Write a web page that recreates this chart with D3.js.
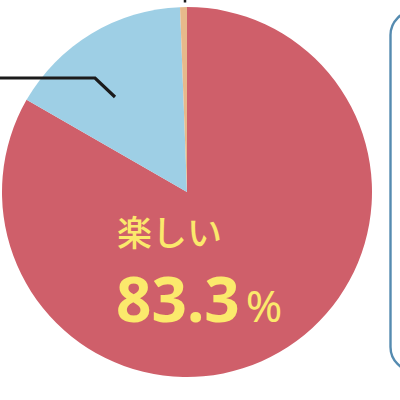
<!DOCTYPE html>
<html>
<head>
<meta charset="utf-8">
<script src="https://cdn.jsdelivr.net/npm/d3@7"></script>
<style>
  html, body { margin: 0; padding: 0; background: #fff; }
  svg { display: block; }
</style>
</head>
<body>
<div id="chart"></div>
<script>
'use strict';

// slices in clockwise order from 12 o'clock
const labels = ['楽しい', 'その他', '無回答'];
const values = [83.3, 16.1, 0.6];
const colors = ['#cf5f6a', '#9ecfe5', '#e7b98b'];

const width = 400, height = 400;
const cx = 187, cy = 192, radius = 185;

const svg = d3.select('#chart').append('svg')
  .attr('width', width)
  .attr('height', height);

// rounded frame on the right (legend box, mostly off canvas)
svg.append('rect')
  .attr('x', 390.5).attr('y', 11)
  .attr('width', 80).attr('height', 360)
  .attr('rx', 24).attr('ry', 24)
  .attr('fill', 'none')
  .attr('stroke', '#558bb0')
  .attr('stroke-width', 2.4);

const pie = d3.pie().sort(null).value(d => d)(values);
const arc = d3.arc().innerRadius(0).outerRadius(radius);

const g = svg.append('g').attr('transform', `translate(${cx}, ${cy})`);

g.selectAll('.slice')
  .data(pie)
  .enter().append('path')
  .attr('class', 'slice')
  .attr('d', arc)
  .attr('fill', (d, i) => colors[i]);

// leader lines
svg.append('polyline')
  .attr('points', '0,78 95,78 115,97')
  .attr('fill', 'none')
  .attr('stroke', '#1b1b1b')
  .attr('stroke-width', 3.2);
svg.append('line')
  .attr('x1', 185).attr('y1', 0)
  .attr('x2', 185).attr('y2', 2.5)
  .attr('stroke', '#1b1b1b')
  .attr('stroke-width', 2.5);

// big label on the main slice
const lbl = svg.append('g').attr('fill', '#fbe96c');
lbl.append('text')
  .attr('x', 117).attr('y', 246)
  .attr('font-family', '"Noto Sans CJK JP", "Noto Sans", sans-serif')
  .attr('font-weight', 500)
  .attr('font-size', 35)
  .text(labels[0]);

const pct = lbl.append('text')
  .attr('x', 116).attr('y', 322)
  .attr('font-family', '"Noto Sans", Lato, sans-serif')
  .attr('font-weight', 700);
pct.append('tspan')
  .attr('font-size', 62)
  .text(values[0].toFixed(1));
pct.append('tspan')
  .attr('font-size', 44)
  .attr('font-weight', 400)
  .attr('dx', 6)
  .text('%');
</script>
</body>
</html>
